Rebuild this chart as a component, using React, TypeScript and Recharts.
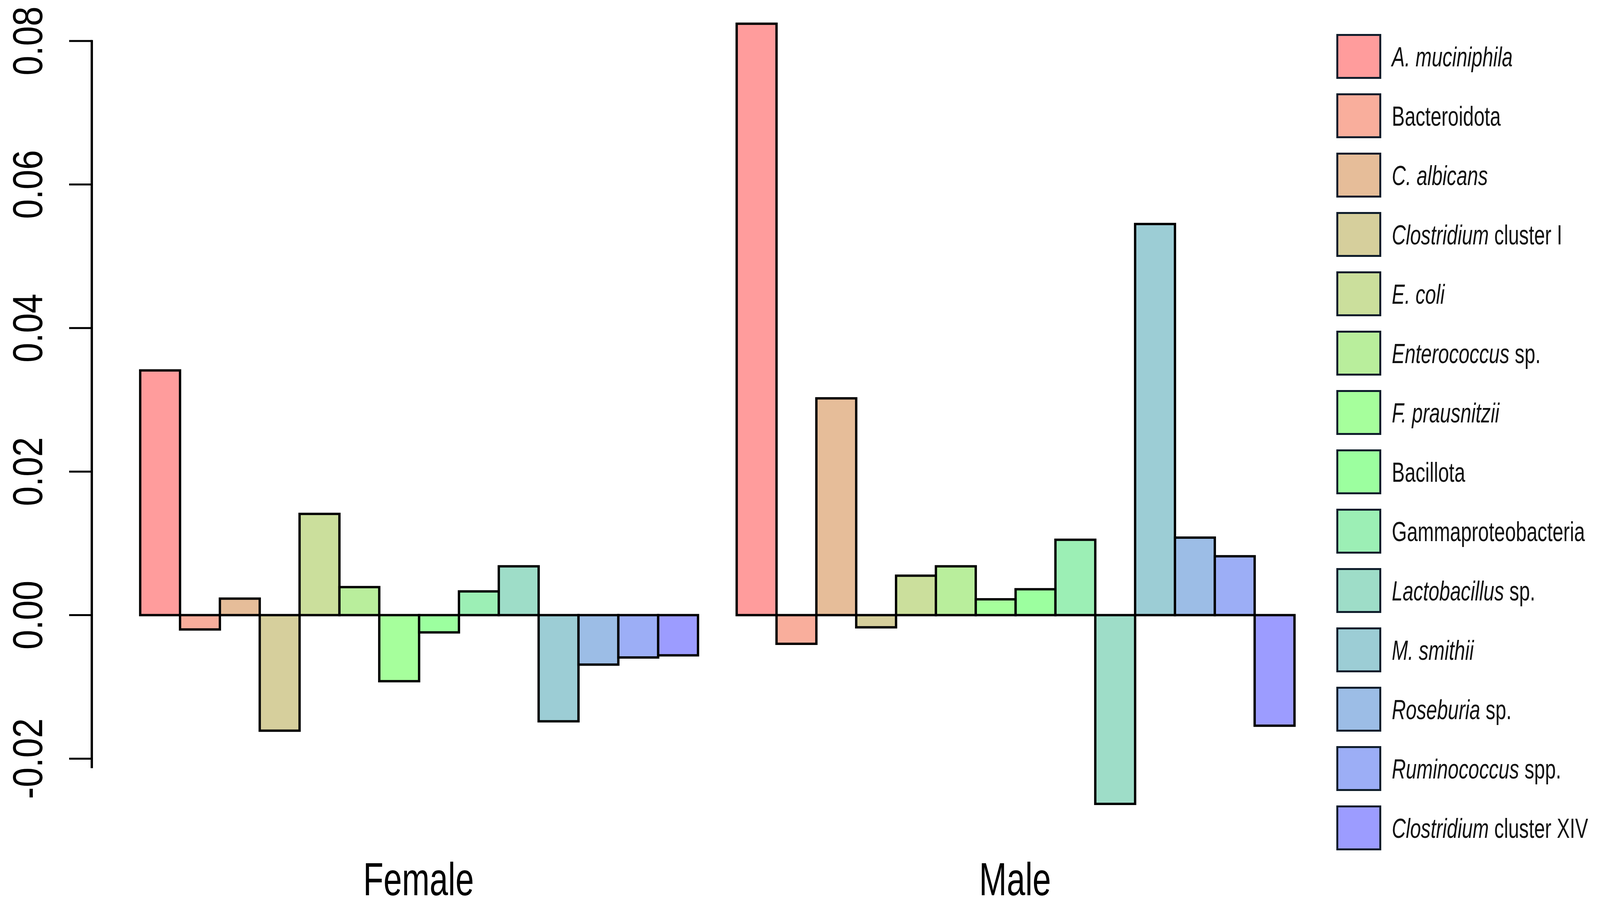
import React from "react";
import { BarChart, Bar, XAxis, YAxis, Legend } from "recharts";

const groups = ["Female", "Male"];

const taxaItalic = [
  "A. muciniphila", "", "C. albicans", "Clostridium", "E. coli", "Enterococcus", "F. prausnitzii",
  "", "", "Lactobacillus", "M. smithii", "Roseburia", "Ruminococcus", "Clostridium",
];
const taxaPlain = [
  "", "Bacteroidota", "", " cluster I", "", " sp.", "",
  "Bacillota", "Gammaproteobacteria", " sp.", "", " sp.", " spp.", " cluster XIV",
];

const female = [
  0.0341, -0.002, 0.0023, -0.0161, 0.0141, 0.0039, -0.0092,
  -0.0024, 0.0033, 0.0068, -0.0148, -0.0069, -0.0059, -0.0056,
];
const male = [
  0.0824, -0.004, 0.0302, -0.0017, 0.0055, 0.0068, 0.0022,
  0.0036, 0.0105, -0.0263, 0.0545, 0.0108, 0.0082, -0.0154,
];

const colors = [
  "#FF9C9C", "#F9AE9C", "#E6BD99", "#D6CF9C", "#CBDF9C", "#B9EE9C", "#A6FF9C",
  "#9CFF9F", "#9CEFB5", "#9EDDC8", "#9CCDD5", "#9CBDE6", "#9CAEF6", "#9C9CFF",
];

const yTicks = [-0.02, 0, 0.02, 0.04, 0.06, 0.08];
const yDomain: [number, number] = [-0.025, 0.085];

// no narrow font installed: squeeze Liberation Sans horizontally instead
const FONT = "'Liberation Sans', Arial, sans-serif";
const NARROW = 0.82;

const data = groups.map((g, gi) => {
  const row: Record<string, string | number> = { group: g };
  (gi === 0 ? female : male).forEach((v, i) => {
    row["t" + i] = v;
  });
  return row;
});

const seriesIndex = (entry: any) => Number(String(entry.dataKey).slice(1));

const YTick = (props: any) => {
  const { x, y, payload, height } = props;
  const axisX = x + 58;
  const top = yTicks[yTicks.length - 1];
  const span = ((top - yTicks[0]) / (yDomain[1] - yDomain[0])) * height;
  const tx = x - 69;
  return (
    <g>
      <line x1={x} y1={y} x2={axisX} y2={y} stroke="#000" strokeWidth={5} />
      {payload.value === top && (
        <line x1={axisX} y1={y - 2.5} x2={axisX} y2={y + span + 2.5} stroke="#000" strokeWidth={6} />
      )}
      <text
        transform={`translate(${tx} ${y}) rotate(-90) scale(${NARROW + 0.02} 1)`}
        textAnchor="middle"
        fontSize={108}
        fontFamily={FONT}
        fill="#000"
      >
        {payload.value.toFixed(2)}
      </text>
    </g>
  );
};

const XTick = (props: any) => {
  const { x, y, payload } = props;
  return (
    <text
      transform={`translate(${x} ${y + 234}) scale(0.72 1)`}
      textAnchor="middle"
      fontSize={118}
      fontFamily={FONT}
      fill="#000"
    >
      {payload.value}
    </text>
  );
};

const ROW = 152;
const BOX = 115;

const LegendContent = (props: any) => {
  const { payload = [] } = props;
  return (
    <svg width={700} height={payload.length * ROW} style={{ display: "block" }}>
      {payload.map((entry: any, k: number) => {
        const i = seriesIndex(entry);
        const top = k * ROW;
        return (
          <g key={i}>
            <rect
              x={2.5}
              y={top + 2.5}
              width={BOX - 5}
              height={BOX - 5}
              fill={entry.color}
              stroke="#0f1d2b"
              strokeWidth={5}
            />
            <text
              transform={`translate(142 ${top + BOX / 2 + 25}) scale(0.71 1)`}
              fontSize={70}
              fontFamily={FONT}
              fill="#111"
            >
              {taxaItalic[i] && <tspan fontStyle="italic">{taxaItalic[i]}</tspan>}
              {taxaPlain[i] && <tspan>{taxaPlain[i].replace(/^ /, "\u00a0")}</tspan>}
            </text>
          </g>
        );
      })}
    </svg>
  );
};

export default function App() {
  return (
    <div style={{ width: 4166, height: 2318, background: "#fff", overflow: "hidden" }}>
      <style>{"html,body{margin:0;overflow:hidden}"}</style>
      <BarChart
        width={4166}
        height={2318}
        data={data}
        margin={{ top: 13, right: 804, bottom: 0, left: 0 }}
        barGap={0}
        barCategoryGap="3.3333%"
      >
        <XAxis
          dataKey="group"
          height={259}
          axisLine={false}
          tickLine={false}
          tickSize={0}
          tickMargin={0}
          padding={{ left: 73, right: 0 }}
          interval={0}
          tick={<XTick />}
        />
        <YAxis
          type="number"
          width={235}
          domain={yDomain}
          ticks={yTicks}
          interval={0}
          axisLine={false}
          tickLine={false}
          tickSize={58}
          tickMargin={0}
          tick={<YTick />}
        />
        <Legend
          layout="vertical"
          align="center"
          verticalAlign="middle"
          itemSorter={seriesIndex}
          wrapperStyle={{ left: 3421, top: 87, width: 700 }}
          content={<LegendContent />}
        />
        {colors.map((c, i) => (
          <Bar
            key={i}
            dataKey={"t" + i}
            name={(taxaItalic[i] + taxaPlain[i]).trim()}
            fill={c}
            stroke="#000"
            strokeWidth={6}
            isAnimationActive={false}
          />
        ))}
      </BarChart>
    </div>
  );
}
